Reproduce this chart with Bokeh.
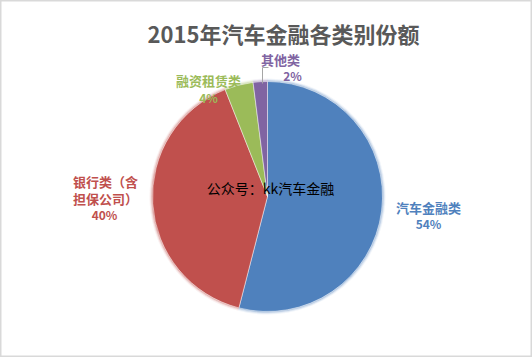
import math
from bokeh.plotting import figure
from bokeh.models import Range1d, ColumnDataSource
from bokeh.core.properties import value
from bokeh.embed import file_html
from bokeh.resources import INLINE

# ---- data ----
categories = ["汽车金融类", "银行类（含\n担保公司）", "融资租赁类", "其他类"]
values = [54, 40, 4, 2]
pct_labels = ["54%", "40%", "4%", "2%"]
colors = ["#4F81BD", "#C0504D", "#9BBB59", "#8064A2"]
title_text = "2015年汽车金融各类别份额"
watermark = "公众号：kk汽车金融"

# ---- layout (pixel space, top-left origin) ----
W, H = 532, 357
CX, CY, R = 267, 196, 115
FONT = value("Noto Sans CJK SC")
# label anchor positions: (x, y of first line) per category
label_pos = [(428, 207), (105, 181), (208, 80), (280, 59)]
pct_pos = [(428, 223), (104, 214), (208, 97), (292, 75)]

def Y(py):
    return H - py

p = figure(width=W, height=H, x_range=Range1d(0, W), y_range=Range1d(0, H),
           output_backend="svg", toolbar_location=None, min_border=0)
p.axis.visible = False
p.grid.visible = False
p.outline_line_color = "#D9D9D9"
p.outline_line_width = 2
p.background_fill_color = "white"
p.border_fill_color = "white"

total = float(sum(values))
starts, ends = [], []
acc = 0.0
for v in values:
    starts.append(math.pi / 2 - 2 * math.pi * acc / total)
    acc += v
    ends.append(math.pi / 2 - 2 * math.pi * acc / total)

src = ColumnDataSource(dict(x=[CX] * len(values), y=[Y(CY)] * len(values),
                            start=starts, end=ends, color=colors))

# soft edge glow
for extra, a in [(3, 0.08), (2, 0.15), (1, 0.3)]:
    p.wedge(x="x", y="y", radius=R + extra, radius_units="screen",
            start_angle="start", end_angle="end", direction="clock",
            fill_color="color", fill_alpha=a, line_color=None, source=src)

p.wedge(x="x", y="y", radius=R, radius_units="screen",
        start_angle="start", end_angle="end", direction="clock",
        fill_color="color", line_color="white", line_width=0.8, line_alpha=0.6,
        source=src)

# leader line for small slice
p.line(x=[262, 262, 268], y=[Y(83), Y(67), Y(67)], line_color="#A6A6A6", line_width=1)

# title
p.text(x=[283], y=[Y(32)], text=[title_text], text_font=FONT, text_font_size="22px",
       text_font_style="bold", text_color="#595959", text_align="center",
       text_baseline="middle")

# category labels
for i, cat in enumerate(categories):
    lines = cat.split("\n")
    lx, ly = label_pos[i]
    for j, ln in enumerate(lines):
        p.text(x=[lx], y=[Y(ly + j * 17)], text=[ln], text_font=FONT,
               text_font_size="13px", text_font_style="bold", text_color=colors[i],
               text_align="center", text_baseline="middle")
    px, py = pct_pos[i]
    p.text(x=[px], y=[Y(py)], text=[pct_labels[i]], text_font=FONT,
           text_font_size="12px", text_font_style="bold", text_color=colors[i],
           text_align="center", text_baseline="middle")

# watermark
p.text(x=[270], y=[Y(187)], text=[watermark], text_font=FONT, text_font_size="14px",
       text_color="black", text_align="center", text_baseline="middle")

open("out.html", "w").write(file_html(p, INLINE))
